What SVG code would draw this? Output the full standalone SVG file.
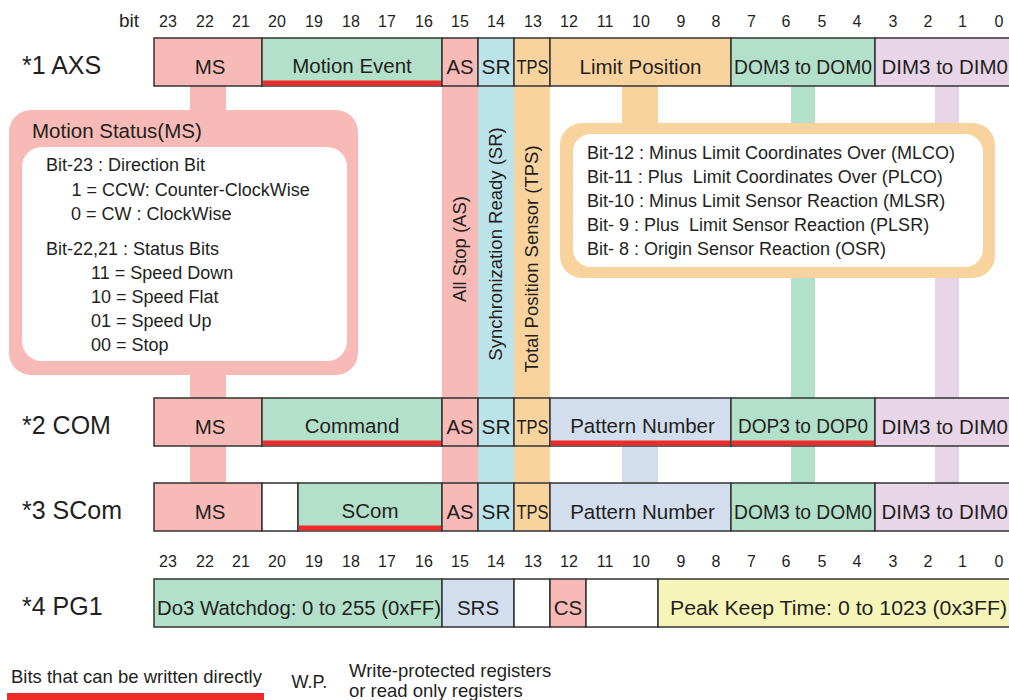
<svg xmlns="http://www.w3.org/2000/svg" width="1009" height="700" viewBox="0 0 1009 700">
<style>
text{font-family:"Liberation Sans",Arial,sans-serif;fill:#231F20}
.bn{font-size:16px;text-anchor:middle}
.rl{font-size:25px}
.ct{font-size:20.5px;text-anchor:middle}
.tx{font-size:18px}
.vt{font-size:18.5px;text-anchor:middle}
.cell{stroke:#333;stroke-width:1.5}
.pk{fill:#F7BAB6}.gr{fill:#B3E0CB}.sr{fill:#BDE3EA}.or{fill:#F9D39D}.pn{fill:#D2DEEE}.pu{fill:#E9D5E8}.ye{fill:#F6F5B9}.wh{fill:#fff}
.red{fill:#EE2B2B}
</style>
<rect width="1009" height="700" fill="#fff"/>

<g id="connectors">
<rect class="pk" x="190" y="86" width="36" height="398"/>
<rect class="pk" x="442" y="86" width="36" height="398"/>
<rect class="sr" x="478" y="86" width="36" height="398"/>
<rect class="or" x="514" y="86" width="36" height="398"/>
<rect class="or" x="622" y="86" width="36" height="40"/>
<rect class="pn" x="622" y="446" width="36" height="38"/>
<rect class="gr" x="791" y="86" width="24" height="398"/>
<rect class="pu" x="935" y="86" width="24" height="398"/>
<text class="vt" transform="translate(466,249) rotate(-90)">All Stop (AS)</text>
<text class="vt" transform="translate(502,244) rotate(-90)">Synchronization Ready (SR)</text>
<text class="vt" transform="translate(538,259) rotate(-90)">Total Position Sensor (TPS)</text>
</g>

<g id="bit-header-top">
<text x="119" y="26.5" style="font-size:19px">bit</text>
<text class="bn" x="168" y="26.5">23</text><text class="bn" x="205" y="26.5">22</text><text class="bn" x="241" y="26.5">21</text>
<text class="bn" x="277" y="26.5">20</text><text class="bn" x="314" y="26.5">19</text><text class="bn" x="351" y="26.5">18</text>
<text class="bn" x="387" y="26.5">17</text><text class="bn" x="424" y="26.5">16</text><text class="bn" x="460" y="26.5">15</text>
<text class="bn" x="496" y="26.5">14</text><text class="bn" x="533" y="26.5">13</text><text class="bn" x="569" y="26.5">12</text>
<text class="bn" x="605" y="26.5">11</text><text class="bn" x="641" y="26.5">10</text><text class="bn" x="681" y="26.5">9</text>
<text class="bn" x="716" y="26.5">8</text><text class="bn" x="751.5" y="26.5">7</text><text class="bn" x="786" y="26.5">6</text>
<text class="bn" x="822" y="26.5">5</text><text class="bn" x="857" y="26.5">4</text><text class="bn" x="893" y="26.5">3</text>
<text class="bn" x="928" y="26.5">2</text><text class="bn" x="962.5" y="26.5">1</text><text class="bn" x="999" y="26.5">0</text>
</g>

<g id="row-axs">
<text class="rl" x="22" y="74">*1 AXS</text>
<rect class="cell pk" x="154" y="38" width="108" height="48"/>
<rect class="cell gr" x="262" y="38" width="180" height="48"/>
<rect class="red" x="263" y="80.5" width="178" height="5"/>
<rect class="cell pk" x="442" y="38" width="36" height="48"/>
<rect class="cell sr" x="478" y="38" width="36" height="48"/>
<rect class="cell or" x="514" y="38" width="36" height="48"/>
<rect class="cell or" x="550" y="38" width="181" height="48"/>
<rect class="cell gr" x="731" y="38" width="144" height="48"/>
<rect class="cell pu" x="875" y="38" width="150" height="48"/>
<text class="ct" x="210" y="74">MS</text>
<text class="ct" x="352" y="72.5">Motion Event</text>
<text class="ct" x="460" y="74" textLength="27" lengthAdjust="spacingAndGlyphs">AS</text>
<text class="ct" x="496" y="74" textLength="29" lengthAdjust="spacingAndGlyphs">SR</text>
<text class="ct" x="532.5" y="74" textLength="32" lengthAdjust="spacingAndGlyphs">TPS</text>
<text class="ct" x="640.5" y="73.5">Limit Position</text>
<text class="ct" x="803" y="73.5" textLength="138" lengthAdjust="spacingAndGlyphs">DOM3 to DOM0</text>
<text x="881.5" y="73.5" style="font-size:20.5px">DIM3 to DIM0</text>
</g>

<g id="callout-ms">
<rect class="pk" x="9" y="110" width="349" height="265" rx="22"/>
<rect class="wh" x="22" y="147" width="325" height="214" rx="20"/>
<text x="32" y="138" style="font-size:20.5px">Motion Status(MS)</text>
<text class="tx" x="46" y="171">Bit-23 : Direction Bit</text>
<text class="tx" x="71.5" y="195.5">1 = CCW: Counter-ClockWise</text>
<text class="tx" x="71" y="219.5">0 = CW : ClockWise</text>
<text class="tx" x="46" y="255">Bit-22,21 : Status Bits</text>
<text class="tx" x="91" y="279">11 = Speed Down</text>
<text class="tx" x="91" y="303">10 = Speed Flat</text>
<text class="tx" x="91" y="327">01 = Speed Up</text>
<text class="tx" x="91" y="351">00 = Stop</text>
</g>

<g id="callout-limit">
<rect class="or" x="560" y="123" width="435" height="155" rx="22"/>
<rect class="wh" x="573" y="134" width="410" height="133" rx="18"/>
<text class="tx" x="587" y="159">Bit-12 : Minus Limit Coordinates Over (MLCO)</text>
<text class="tx" x="587" y="183" xml:space="preserve">Bit-11 : Plus  Limit Coordinates Over (PLCO)</text>
<text class="tx" x="587" y="207">Bit-10 : Minus Limit Sensor Reaction (MLSR)</text>
<text class="tx" x="587" y="231" xml:space="preserve">Bit- 9 : Plus  Limit Sensor Reaction (PLSR)</text>
<text class="tx" x="587" y="254.5" xml:space="preserve">Bit- 8 : Origin Sensor Reaction (OSR)</text>
</g>

<g id="row-com">
<text class="rl" x="22" y="434">*2 COM</text>
<rect class="cell pk" x="154" y="398" width="108" height="48"/>
<rect class="cell gr" x="262" y="398" width="180" height="48"/>
<rect class="red" x="263" y="440.5" width="178" height="5"/>
<rect class="cell pk" x="442" y="398" width="36" height="48"/>
<rect class="cell sr" x="478" y="398" width="36" height="48"/>
<rect class="cell or" x="514" y="398" width="36" height="48"/>
<rect class="cell pn" x="550" y="398" width="181" height="48"/>
<rect class="red" x="551" y="440.5" width="179" height="5"/>
<rect class="cell gr" x="731" y="398" width="144" height="48"/>
<rect class="red" x="732" y="440.5" width="142" height="5"/>
<rect class="cell pu" x="875" y="398" width="150" height="48"/>
<text class="ct" x="210" y="434">MS</text>
<text class="ct" x="352" y="432.5">Command</text>
<text class="ct" x="460" y="434" textLength="27" lengthAdjust="spacingAndGlyphs">AS</text>
<text class="ct" x="496" y="434" textLength="29" lengthAdjust="spacingAndGlyphs">SR</text>
<text class="ct" x="532.5" y="434" textLength="32" lengthAdjust="spacingAndGlyphs">TPS</text>
<text class="ct" x="642.5" y="432.5">Pattern Number</text>
<text class="ct" x="803" y="432.5" textLength="130" lengthAdjust="spacingAndGlyphs">DOP3 to DOP0</text>
<text x="881.5" y="434" style="font-size:20.5px">DIM3 to DIM0</text>
</g>

<g id="row-scom">
<text class="rl" x="22" y="519">*3 SCom</text>
<rect class="cell pk" x="154" y="483" width="108" height="48"/>
<rect class="cell wh" x="262" y="483" width="36" height="48"/>
<rect class="cell gr" x="298" y="483" width="144" height="48"/>
<rect class="red" x="299" y="525.5" width="142" height="5"/>
<rect class="cell pk" x="442" y="483" width="36" height="48"/>
<rect class="cell sr" x="478" y="483" width="36" height="48"/>
<rect class="cell or" x="514" y="483" width="36" height="48"/>
<rect class="cell pn" x="550" y="483" width="181" height="48"/>
<rect class="cell gr" x="731" y="483" width="144" height="48"/>
<rect class="cell pu" x="875" y="483" width="150" height="48"/>
<text class="ct" x="210" y="519">MS</text>
<text class="ct" x="370" y="517.5">SCom</text>
<text class="ct" x="460" y="519" textLength="27" lengthAdjust="spacingAndGlyphs">AS</text>
<text class="ct" x="496" y="519" textLength="29" lengthAdjust="spacingAndGlyphs">SR</text>
<text class="ct" x="532.5" y="519" textLength="32" lengthAdjust="spacingAndGlyphs">TPS</text>
<text class="ct" x="642.5" y="518.5">Pattern Number</text>
<text class="ct" x="803" y="518.5" textLength="138" lengthAdjust="spacingAndGlyphs">DOM3 to DOM0</text>
<text x="881.5" y="519" style="font-size:20.5px">DIM3 to DIM0</text>
</g>

<g id="bit-header-bottom">
<text class="bn" x="168" y="567">23</text><text class="bn" x="205" y="567">22</text><text class="bn" x="241" y="567">21</text>
<text class="bn" x="277" y="567">20</text><text class="bn" x="314" y="567">19</text><text class="bn" x="351" y="567">18</text>
<text class="bn" x="387" y="567">17</text><text class="bn" x="424" y="567">16</text><text class="bn" x="460" y="567">15</text>
<text class="bn" x="496" y="567">14</text><text class="bn" x="533" y="567">13</text><text class="bn" x="569" y="567">12</text>
<text class="bn" x="605" y="567">11</text><text class="bn" x="641" y="567">10</text><text class="bn" x="681" y="567">9</text>
<text class="bn" x="716" y="567">8</text><text class="bn" x="751.5" y="567">7</text><text class="bn" x="786" y="567">6</text>
<text class="bn" x="822" y="567">5</text><text class="bn" x="857" y="567">4</text><text class="bn" x="893" y="567">3</text>
<text class="bn" x="928" y="567">2</text><text class="bn" x="962.5" y="567">1</text><text class="bn" x="999" y="567">0</text>
</g>

<g id="row-pg1">
<text class="rl" x="22" y="615">*4 PG1</text>
<rect class="cell gr" x="154" y="579" width="288" height="48"/>
<rect class="cell pn" x="442" y="579" width="72" height="48"/>
<rect class="cell wh" x="514" y="579" width="36" height="48"/>
<rect class="cell pk" x="550" y="579" width="36" height="48"/>
<rect class="cell wh" x="586" y="579" width="72" height="48"/>
<rect class="cell ye" x="658" y="579" width="367" height="48"/>
<text x="157" y="615" style="font-size:20.5px" textLength="284" lengthAdjust="spacingAndGlyphs">Do3 Watchdog: 0 to 255 (0xFF)</text>
<text class="ct" x="478" y="615">SRS</text>
<text class="ct" x="568" y="615">CS</text>
<text x="670" y="614.5" style="font-size:20.5px" textLength="337" lengthAdjust="spacingAndGlyphs">Peak Keep Time: 0 to 1023 (0x3FF)</text>
</g>

<g id="legend">
<text x="11" y="682.5" style="font-size:18.5px">Bits that can be written directly</text>
<rect class="red" x="7" y="693" width="257" height="7"/>
<text x="291.5" y="687.5" style="font-size:18px">W.P.</text>
<text x="349" y="677" style="font-size:18.5px">Write-protected registers</text>
<text x="349" y="697" style="font-size:18.5px">or read only registers</text>
</g>
</svg>
